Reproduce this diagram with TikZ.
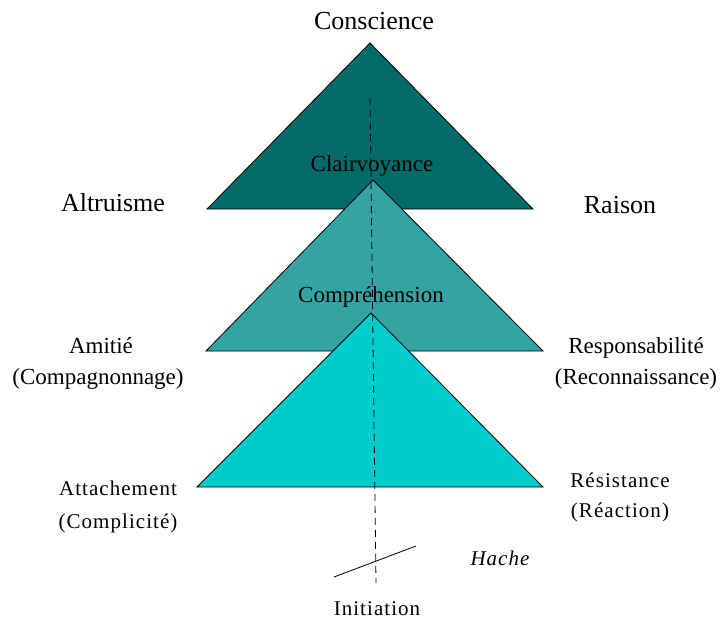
\documentclass[tikz,border=0pt]{standalone}
\usepackage{fontspec}
\setmainfont{Liberation Serif}
\newfontfamily\spacedfont[LetterSpace=5]{Liberation Serif}
\definecolor{tealdark}{HTML}{006B68}
\definecolor{tealmid}{HTML}{33A3A3}
\definecolor{teallight}{HTML}{00CCCC}
\tikzset{
    tri/.style={draw=black, line width=0.8pt, line join=miter},
    toplabel/.style={font=\fontsize{26}{30}\selectfont, anchor=base, inner sep=0pt},
    sidelabel/.style={font=\fontsize{23}{26}\selectfont, anchor=base, inner sep=0pt},
    lowlabel/.style={font=\spacedfont\fontsize{21}{25}\selectfont, anchor=base, inner sep=0pt},
    axis/.style={draw=black, line width=0.8pt, dash pattern=on 7pt off 5pt},
    cut/.style={draw=black, line width=0.8pt},
}

\begin{document}
\begin{tikzpicture}[x=1pt,y=-1pt]
    \useasboundingbox (0,0) rectangle (720,619);
    % triangles
    \coordinate (a1) at (370,43);
    \coordinate (l1) at (207,209);
    \coordinate (r1) at (533,209);
    \coordinate (a2) at (373,180);
    \coordinate (l2) at (206,351);
    \coordinate (r2) at (543,351);
    \coordinate (a3) at (371,313);
    \coordinate (l3) at (197,487);
    \coordinate (r3) at (543,487);
    \draw[tri, fill=tealdark] (a1) -- (l1) -- (r1) -- cycle;
    \draw[tri, fill=tealmid] (a2) -- (l2) -- (r2) -- cycle;
    \draw[tri, fill=teallight] (a3) -- (l3) -- (r3) -- cycle;
    % labels
    \node[toplabel] (cons) at (374,29) {Conscience};
    \node[sidelabel] (clair) at (372,171) {Clairvoyance};
    \node[toplabel] (altr) at (113,211) {Altruisme};
    \node[toplabel] (rais) at (620,213) {Raison};
    \node[sidelabel] (compr) at (371,302) {Compréhension};
    \node[sidelabel] (amit) at (101,353) {Amitié};
    \node[sidelabel] (compa) at (98,384) {(Compagnonnage)};
    \node[sidelabel] (resp) at (636,353) {Responsabilité};
    \node[sidelabel] (reco) at (636,384) {(Reconnaissance)};
    \node[lowlabel] (atta) at (118,495) {Attachement};
    \node[lowlabel] (compl) at (118,528) {(Complicité)};
    \node[lowlabel] (resi) at (620,487) {Résistance};
    \node[lowlabel] (reac) at (620,517) {(Réaction)};
    \node[lowlabel, font=\spacedfont\fontsize{21}{25}\selectfont\itshape] (hach) at (500,565) {Hache};
    \node[lowlabel] (init) at (377,615) {Initiation};
    % axis and cut
    \coordinate (top) at (370,98);
    \coordinate (bot) at (376,583);
    \coordinate (c1) at (334,577);
    \coordinate (c2) at (416,546);
    \draw[axis] (top) -- (bot);
    \draw[cut] (c1) -- (c2);
\end{tikzpicture}
\end{document}
